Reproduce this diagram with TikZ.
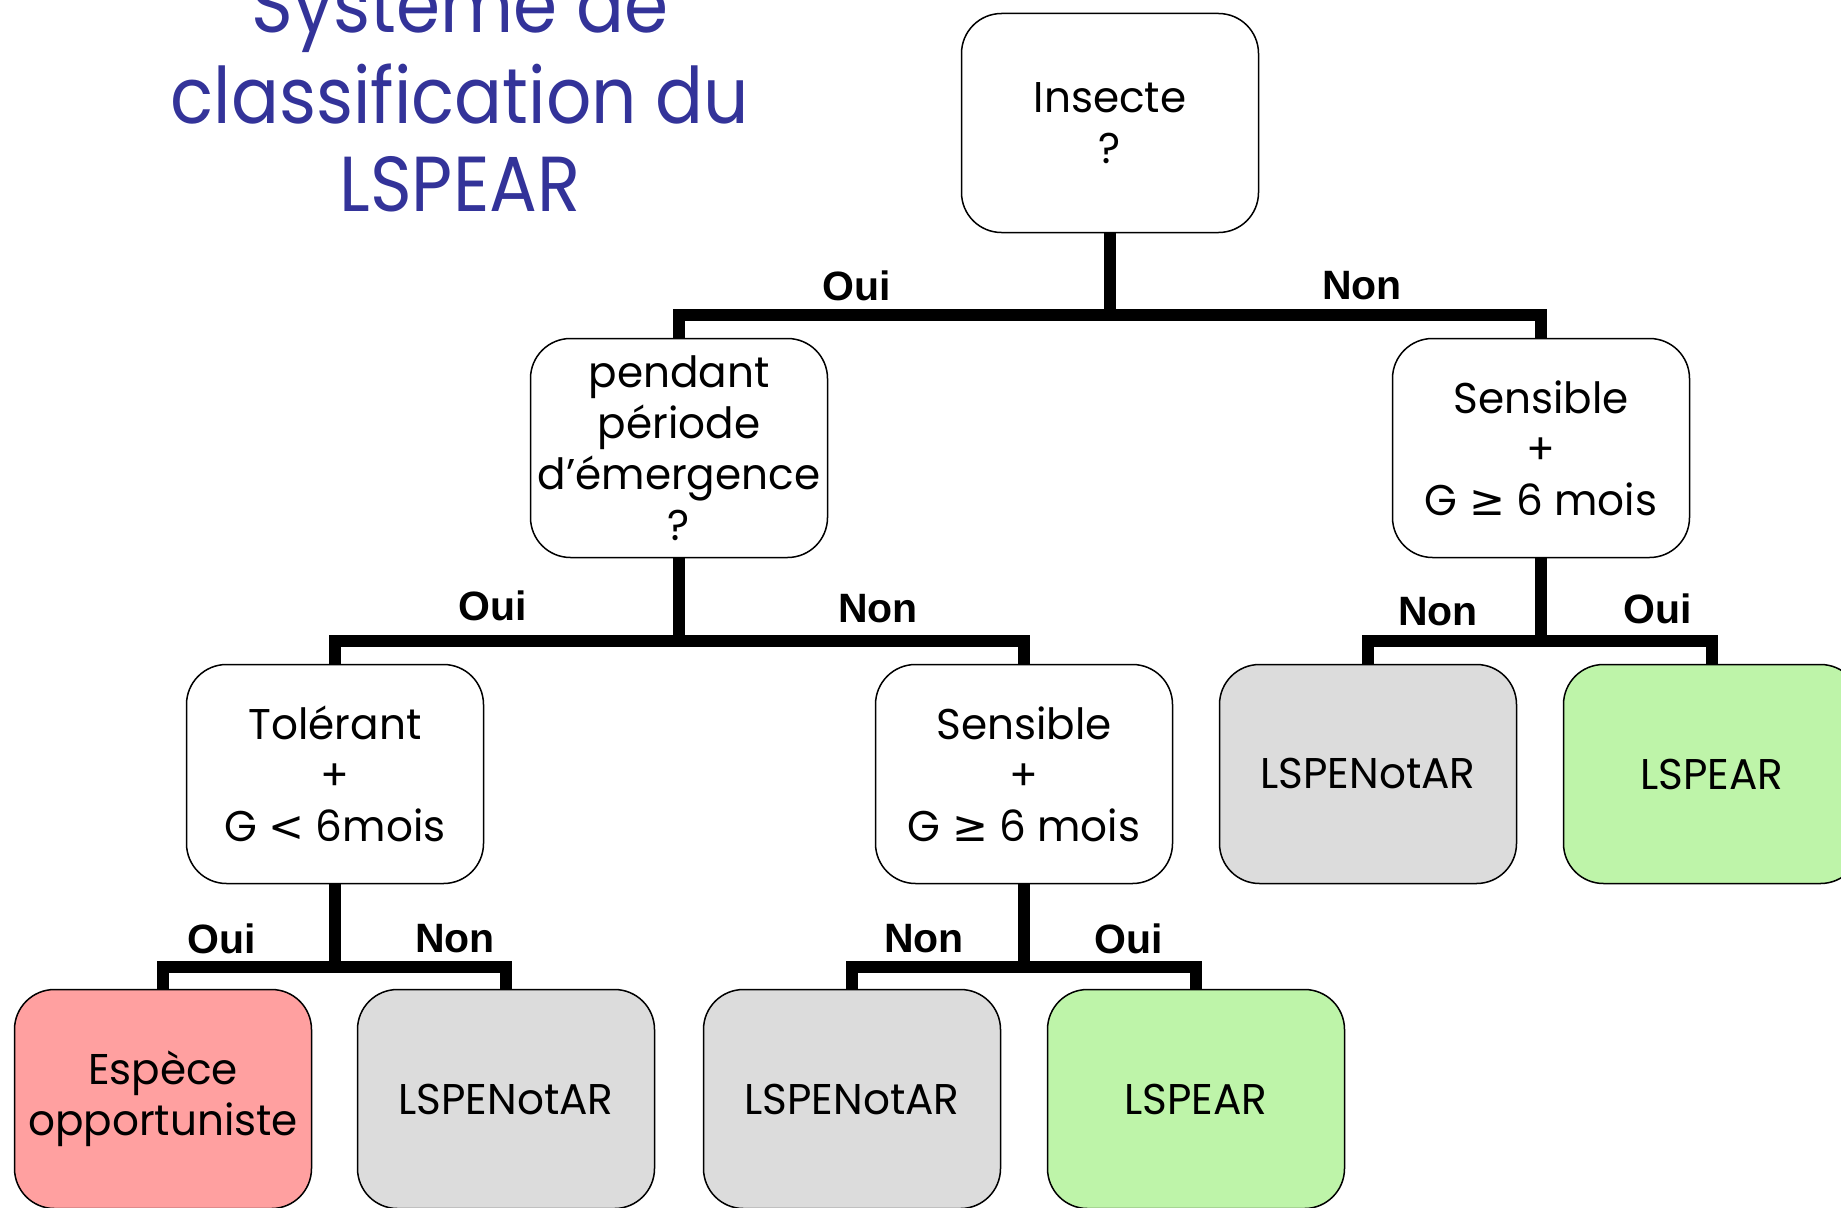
\documentclass[tikz,border=0pt]{standalone}
\usepackage{fontspec}
\setmainfont{Poppins}
\newfontfamily\titlefont[FakeStretch=0.91]{Poppins}
\newfontfamily\boxfont[FakeStretch=0.98]{Poppins}
\newfontfamily\labfont{Liberation Sans}
\newfontfamily\symfont{DejaVu Sans}
\definecolor{titleblue}{HTML}{333399}
\definecolor{fillred}{HTML}{FFA0A0}
\definecolor{fillgray}{HTML}{DCDCDC}
\definecolor{fillgreen}{HTML}{BEF4A9}
\newcommand{\mygeq}{{\symfont ≥}}
\newcommand{\myless}{{\symfont <}}
\tikzset{
  box/.style={draw=black, line width=1.5pt, rounded corners=40pt, minimum width=297pt,
    minimum height=219pt, align=center, inner sep=0pt,
    font=\boxfont\fontsize{43}{51}\selectfont},
  redbox/.style={box, fill=fillred},
  graybox/.style={box, fill=fillgray},
  greenbox/.style={box, fill=fillgreen},
  conn/.style={line width=12pt, black},
  lab/.style={font=\labfont\bfseries\fontsize{41}{41}\selectfont, inner sep=0pt},
  ttl/.style={font=\titlefont\fontsize{78}{88}\selectfont, text=titleblue, anchor=base, inner sep=0pt}
}
\begin{document}
\begin{tikzpicture}[x=1pt,y=-1pt]
\useasboundingbox (0,0) rectangle (1841,1207);
\clip (0,0) rectangle (1841,1207);
\fill[white] (0,0) rectangle (1841,1207);
% title
\node[ttl] (t1) at (460,33) {Système de};
\node[ttl] (t2) at (460,123) {classification du};
\node[ttl] (t3) at (460,211) {LSPEAR};
% boxes
\node[box] (ins) at (1110,123) {Insecte\\?};
\node[box] (pend) at (679,448) {pendant\\période\\d’émergence\\?};
\node[box] (sensR) at (1541,448) {Sensible\\+\\G \mygeq{} 6 mois};
\node[box] (tol) at (335,774) {Tolérant\\+\\G \myless{} 6mois};
\node[box] (sensM) at (1024,774) {Sensible\\+\\G \mygeq{} 6 mois};
\node[graybox] (notR) at (1368,774) {LSPENotAR};
\node[greenbox] (earR) at (1712,774) {LSPEAR};
\node[redbox] (opp) at (163,1099) {Espèce\\opportuniste};
\node[graybox] (notA) at (506,1099) {LSPENotAR};
\node[graybox] (notB) at (852,1099) {LSPENotAR};
\node[greenbox] (earB) at (1196,1099) {LSPEAR};
% junctions
\coordinate (j1) at (1110,315);
\coordinate (j2) at (679,641);
\coordinate (j3) at (1541,641);
\coordinate (j4) at (335,967);
\coordinate (j5) at (1024,967);
% connectors
\draw[conn] (ins.south) -- (j1);
\draw[conn] (pend.north) |- (j1);
\draw[conn] (sensR.north) |- (j1);
\draw[conn] (pend.south) -- (j2);
\draw[conn] (tol.north) |- (j2);
\draw[conn] (sensM.north) |- (j2);
\draw[conn] (sensR.south) -- (j3);
\draw[conn] (notR.north) |- (j3);
\draw[conn] (earR.north) |- (j3);
\draw[conn] (tol.south) -- (j4);
\draw[conn] (opp.north) |- (j4);
\draw[conn] (notA.north) |- (j4);
\draw[conn] (sensM.south) -- (j5);
\draw[conn] (notB.north) |- (j5);
\draw[conn] (earB.north) |- (j5);
% labels
\node[lab] (l1) at (857,286) {Oui};
\node[lab] (l2) at (1362,286) {Non};
\node[lab] (l3) at (493,606) {Oui};
\node[lab] (l4) at (878,609) {Non};
\node[lab] (l5) at (1438,612) {Non};
\node[lab] (l6) at (1658,609) {Oui};
\node[lab] (l7) at (222,939) {Oui};
\node[lab] (l8) at (455,939) {Non};
\node[lab] (l9) at (924,939) {Non};
\node[lab] (l10) at (1129,939) {Oui};
\end{tikzpicture}
\end{document}
